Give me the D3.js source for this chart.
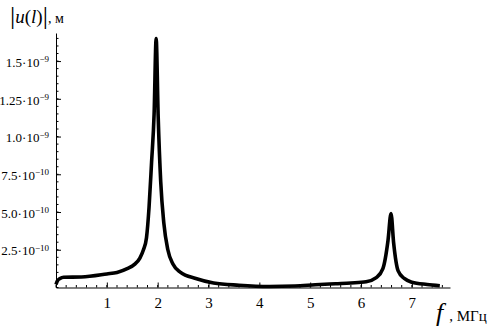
<!DOCTYPE html>
<html>
<head>
<meta charset="utf-8">
<script src="https://cdn.jsdelivr.net/npm/d3@7"></script>
<style>
  body { margin: 0; background: #fff; }
  svg text { font-family: "Liberation Serif", "DejaVu Serif", serif; fill: #000; }
</style>
</head>
<body>
<div class="chart"></div>
<script>
// frequency, MHz
const freq = [0, 0.03, 0.08, 0.15, 0.5, 1.0, 1.2, 1.4, 1.55, 1.65, 1.72, 1.78, 1.83, 1.88, 1.93, 1.97,
  2.01, 2.06, 2.12, 2.2, 2.3, 2.45, 2.75, 3.1, 3.6, 4.2, 4.7, 5.1, 5.5, 5.8, 6.1, 6.3, 6.43, 6.53,
  6.59, 6.64, 6.73, 6.85, 7.0, 7.3, 7.55]
// |u(l)|, units of 1e-10 m
const amp = [0.2, 0.45, 0.6, 0.68, 0.7, 0.9, 1.0, 1.25, 1.55, 1.95, 2.5, 3.3, 5.3, 8.3, 11.5, 16.5,
  11.3, 7.0, 4.3, 2.5, 1.55, 1.0, 0.6, 0.3, 0.15, 0.07, 0.1, 0.18, 0.25, 0.3, 0.38, 0.65, 1.25, 3.1,
  4.9, 3.0, 1.1, 0.6, 0.35, 0.2, 0.12]

const xTicks = [1, 2, 3, 4, 5, 6, 7]
const yTicks = [2.5e-10, 5e-10, 7.5e-10, 1e-9, 1.25e-9, 1.5e-9]
const yMantissa = ['2.5', '5.0', '7.5', '1.0', '1.25', '1.5']
const yExponent = ['-10', '-10', '-10', '-9', '-9', '-9']

const width = 500
const height = 327

const x = d3.scaleLinear().domain([0, 7.75]).range([56, 450])
const y = d3.scaleLinear().domain([0, 1.686e-9]).range([287.5, 33])

const svg = d3
  .select('.chart')
  .append('svg')
  .attr('width', width)
  .attr('height', height)

// minor ticks
const xMinor = d3.range(0, 7.61, 0.2)
const yMinor = d3.range(0, 1.66e-9, 0.5e-10)

svg.append('g')
  .selectAll('line')
  .data(xMinor)
  .join('line')
  .attr('x1', d => x(d)).attr('x2', d => x(d))
  .attr('y1', y(0)).attr('y2', y(0) - 2.5)
  .attr('stroke', '#000')

svg.append('g')
  .selectAll('line')
  .data(yMinor)
  .join('line')
  .attr('y1', d => y(d)).attr('y2', d => y(d))
  .attr('x1', x(0)).attr('x2', x(0) + 2.5)
  .attr('stroke', '#000')

// x axis
const xAxis = svg.append('g')
  .attr('transform', `translate(0,${y(0)})`)
  .call(d3.axisBottom(x).tickValues(xTicks).tickSizeInner(-5).tickSizeOuter(0).tickPadding(10).tickFormat(d3.format('d')))
xAxis.select('.domain').attr('stroke', '#000')
xAxis.selectAll('text').style('font-size', '15px')

// y axis
const yAxis = svg.append('g')
  .attr('transform', `translate(${x(0)},0)`)
  .call(d3.axisLeft(y).tickValues(yTicks).tickSizeInner(-5).tickSizeOuter(0).tickPadding(7).tickFormat(''))
yAxis.select('.domain').attr('stroke', '#000')

yAxis.selectAll('.tick text').each(function (d, i) {
  const t = d3.select(this).style('font-size', '13px').attr('dy', '0.4em')
  t.append('tspan').text(yMantissa[i] + '·10')
  t.append('tspan').attr('dy', '-0.5em').style('font-size', '9px').text(yExponent[i].replace('-', '−'))
})

// curve
const line = d3.line()
  .x((d, i) => x(freq[i]))
  .y(d => y(d * 1e-10))
  .curve(d3.curveMonotoneX)

svg.append('path')
  .datum(amp)
  .attr('d', line)
  .attr('fill', 'none')
  .attr('stroke', '#000')
  .attr('stroke-width', 3.6)
  .attr('stroke-linejoin', 'round')

// axis titles
const yTitle = svg.append('text').attr('x', 10).attr('y', 23).style('font-size', '19px')
yTitle.append('tspan').style('font-size', '26px').attr('dy', 1).text('|')
yTitle.append('tspan').attr('font-style', 'italic').attr('dy', -1).text('u')
yTitle.append('tspan').text('(')
yTitle.append('tspan').attr('font-style', 'italic').text('l')
yTitle.append('tspan').text(')')
yTitle.append('tspan').style('font-size', '26px').attr('dy', 1).text('|')
yTitle.append('tspan').style('font-size', '14px').attr('dy', -1).text(', м')

const xTitle = svg.append('text').attr('x', 436).attr('y', 321)
xTitle.append('tspan').style('font-size', '26px').attr('font-style', 'italic').text('f')
xTitle.append('tspan').style('font-size', '15px').attr('dx', 6).text(', МГц')
</script>
</body>
</html>
